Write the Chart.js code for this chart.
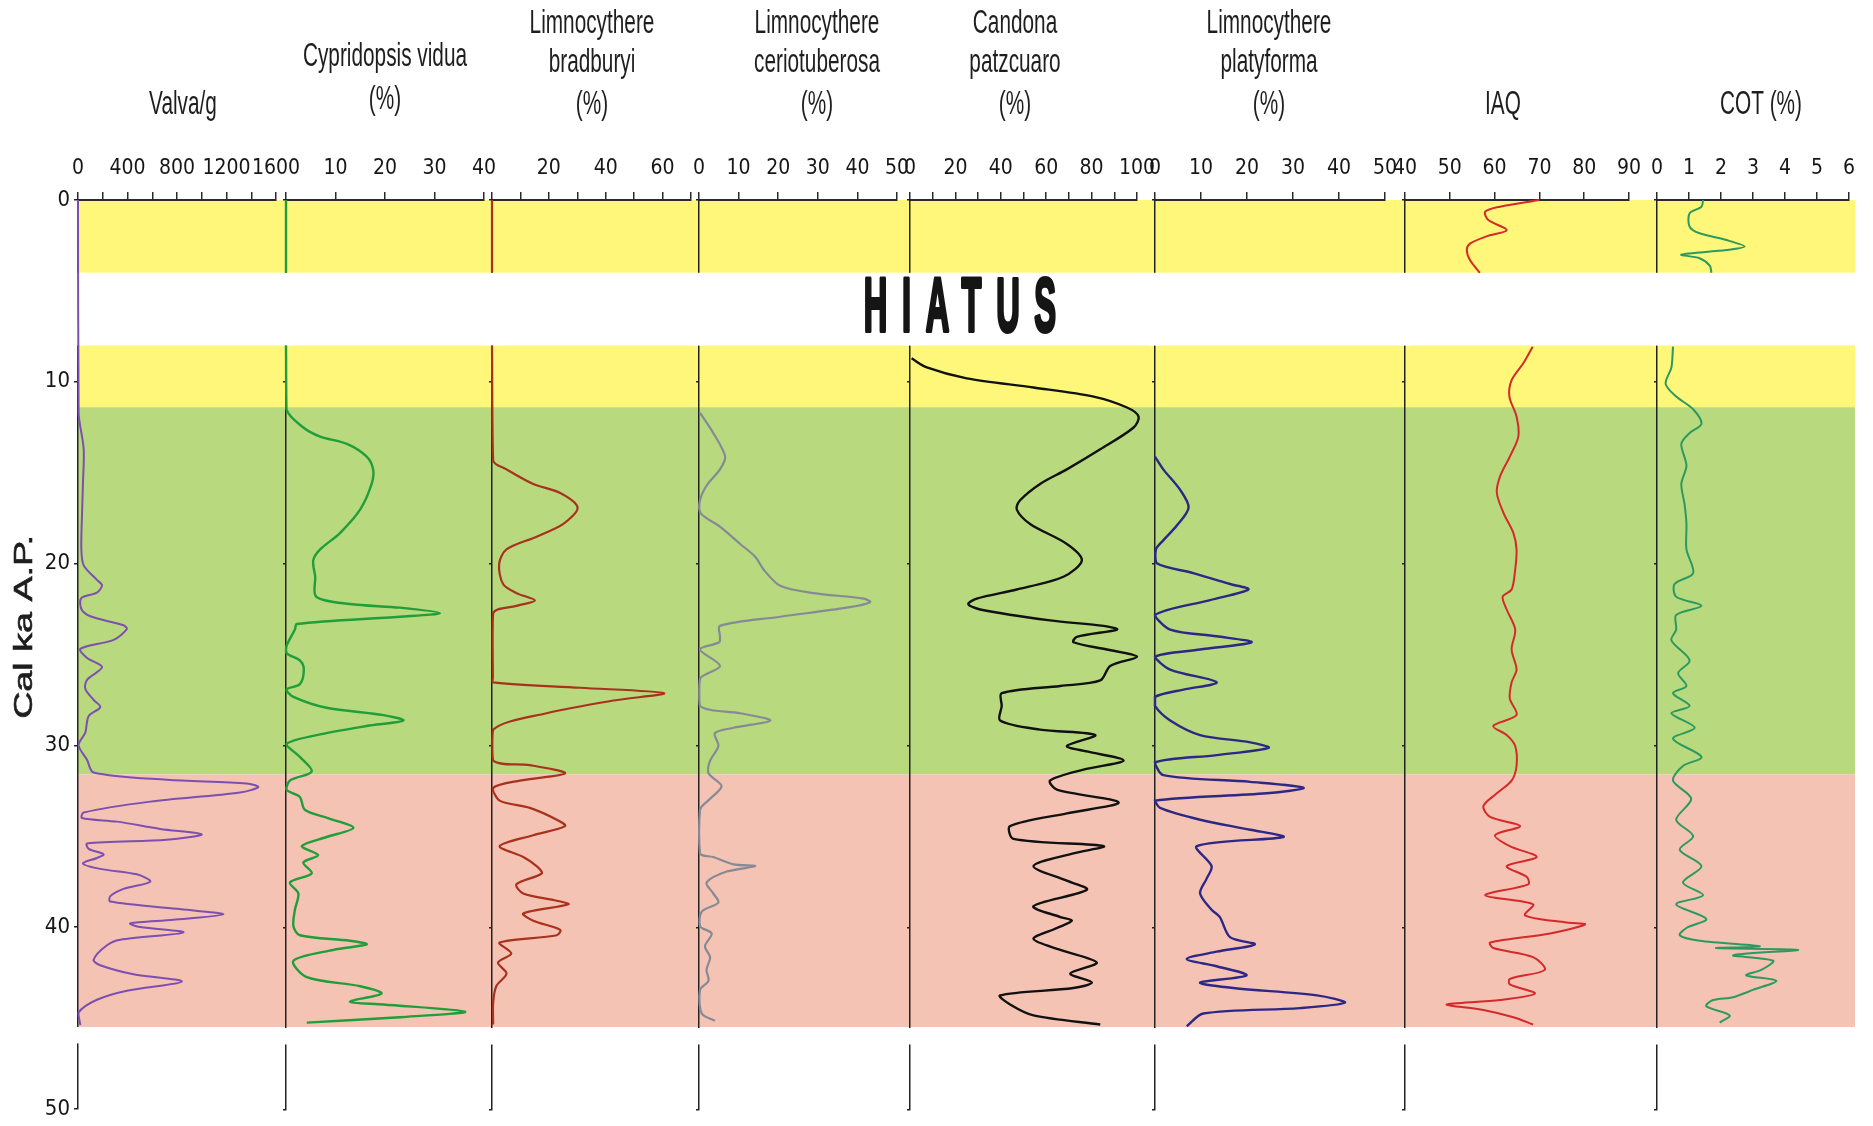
<!DOCTYPE html>
<html lang="es">
<head>
<meta charset="utf-8">
<title>Ostrácodos - Cal ka A.P.</title>
<script src="https://cdn.jsdelivr.net/npm/chart.js@4.4.1/dist/chart.umd.min.js"></script>
<style>
  html, body { margin: 0; padding: 0; background: #ffffff; }
  #lamina { position: relative; width: 1873px; height: 1126px; overflow: hidden; }
  #lamina canvas { position: absolute; left: 0; top: 0; }
</style>
</head>
<body>
<div id="lamina"></div>
<script>
// Datos: edad (ka cal A.P.) y valor de cada curva
const edadValva = [0, 11.7, 13.7, 15.6, 17.4, 19.2, 20.1, 20.9, 21.2, 21.6, 21.9, 22.5, 22.9, 23.4, 23.6, 24.2, 24.7, 25.2, 25.7, 26.4, 26.9, 27.5, 27.9, 28.4, 29.3, 30.0, 30.8, 31.5, 31.9, 32.1, 32.3, 32.6, 33.1, 33.7, 34.0, 34.2, 34.6, 34.9, 35.2, 35.4, 35.7, 36.0, 36.2, 36.5, 36.8, 37.1, 37.5, 37.9, 38.3, 38.6, 39.0, 39.3, 39.6, 39.8, 40.0, 40.3, 40.7, 41.0, 41.8, 42.1, 42.6, 43.0, 43.5, 44.0, 44.7, 45.4];
const valva = [0, 5, 46, 40, 32, 27, 46, 153, 194, 153, 27, 27, 100, 368, 395, 288, 19, 73, 194, 73, 59, 126, 180, 86, 59, 5, 73, 126, 718, 1363, 1457, 1310, 584, 46, 32, 315, 664, 1000, 718, 73, 86, 207, 153, 40, 180, 476, 584, 368, 261, 261, 799, 1175, 772, 422, 503, 852, 342, 234, 126, 180, 449, 839, 395, 153, 5, 19];

const edadCypri = [0, 4, 6, 8, 11.5, 12.5, 13.0, 13.4, 14.1, 14.8, 15.6, 17.0, 18.3, 19.2, 19.8, 20.7, 21.8, 22.2, 22.4, 22.7, 22.9, 23.3, 23.6, 24.5, 24.9, 25.3, 25.8, 26.6, 26.9, 27.3, 27.9, 28.3, 28.6, 28.9, 29.4, 29.9, 30.6, 31.4, 31.9, 32.4, 32.8, 33.5, 34.0, 34.5, 35.0, 35.5, 36.0, 36.4, 37.0, 37.5, 38.1, 39.0, 39.9, 40.4, 40.7, 40.9, 41.2, 41.8, 42.7, 43.2, 43.6, 44.05, 44.2, 44.6, 44.9, 45.2];
const cypri = [0, 0, null, 0, 0.1, 3.5, 6.9, 12.3, 16.3, 17.6, 17.3, 15.0, 10.9, 6.9, 5.5, 5.9, 6.1, 12.9, 23.0, 31.1, 23.0, 2.2, 1.8, 0.1, 0.1, 2.8, 3.6, 2.8, 0.1, 1.5, 8.2, 19.7, 23.7, 16.3, 6.2, 0.1, 2.8, 5.2, 0.8, 0.1, 2.8, 3.8, 8.9, 13.6, 8.2, 3.2, 6.5, 3.5, 5.2, 0.8, 2.5, 1.8, 1.5, 2.8, 12.9, 16.3, 9.6, 1.5, 4.2, 15.0, 19.3, 12.9, 19.7, 36.2, 23.0, 4.2];

const edadBrad = [0, 4, 6, 8, 14.3, 14.8, 15.6, 16.1, 16.9, 17.8, 18.5, 19.2, 20.0, 21.1, 21.6, 22.0, 22.3, 22.7, 26.2, 26.5, 26.8, 27.1, 27.5, 28.2, 29.1, 30.8, 31.05, 31.5, 31.9, 32.3, 33.0, 33.4, 34.05, 34.4, 34.9, 35.5, 36.1, 36.6, 37.0, 37.6, 38.1, 38.5, 38.7, 39.2, 39.6, 40.1, 40.4, 40.8, 41.4, 41.9, 42.5, 43.2, 44.1, 45.3];
const brad = [0, 0, null, 0, 0.4, 5.1, 14.5, 24, 30.1, 25.1, 15.7, 5.1, 2.5, 3.9, 8.6, 15.1, 8.6, 0.4, 0.3, 0.4, 31, 60.5, 42.8, 19.2, 0.4, 0.4, 13.3, 25.7, 9.8, 0.4, 2.7, 13.3, 22.8, 25.7, 14.5, 2.7, 11, 15.7, 17.5, 8.6, 11, 22.8, 26.9, 11, 14.5, 24, 22.8, 2.7, 6.8, 2.1, 5.1, 1.5, 0.4, 0.4];

const edadCerio = [11.7, 12.8, 14.1, 14.8, 15.7, 16.5, 17.2, 17.95, 18.9, 19.6, 20.3, 21.2, 21.6, 21.9, 22.1, 22.4, 22.9, 23.4, 24.0, 24.3, 24.7, 25.6, 26.3, 27.8, 28.2, 28.6, 29.0, 29.3, 30.0, 30.8, 31.5, 32.2, 32.9, 33.5, 35.9, 36.1, 36.5, 36.6, 36.9, 37.5, 38.1, 38.6, 39.1, 39.9, 40.3, 41.0, 41.6, 42.3, 42.9, 43.4, 44.7, 45.1];
const cerio = [0.25, 3.6, 6.6, 5.3, 1.9, 0.25, 0.4, 5.3, 10.4, 14.2, 16.3, 20.5, 28.9, 41.6, 43.2, 37.3, 20.5, 5.3, 5.3, 5.1, 0.25, 5.3, 0.25, 0.25, 10.4, 18.0, 8.7, 4.0, 4.9, 2.8, 2.4, 5.7, 2.8, 0.25, 0.25, 3.6, 8.7, 14.2, 7.0, 1.9, 3.6, 4.9, 0.7, 0.25, 3.2, 1.5, 2.8, 1.9, 2.4, 0.25, 0.7, 4.0];

const edadCand = [8.7, 9.2, 9.8, 10.3, 10.8, 11.4, 11.9, 12.5, 13.7, 14.8, 15.6, 16.5, 17.0, 17.8, 18.9, 19.8, 20.7, 21.4, 21.9, 22.2, 22.5, 23.1, 23.4, 23.6, 24.0, 24.3, 24.7, 25.1, 25.6, 26.4, 26.7, 27.1, 27.8, 28.6, 29.1, 29.4, 30.0, 30.3, 30.8, 31.3, 31.9, 32.4, 33.1, 33.7, 34.4, 35.1, 35.5, 35.9, 36.6, 37.4, 37.9, 38.8, 39.4, 39.6, 40.0, 40.6, 41.2, 41.9, 42.5, 43.0, 43.3, 43.7, 44.2, 44.8, 45.3];
const cand = [0.7, 7.4, 25, 54.4, 80.9, 95.6, 100.7, 98.5, 83.8, 69.1, 57.3, 48.5, 47, 52.9, 69.1, 75.7, 67.6, 47, 29.4, 25.7, 30.9, 61.7, 85.3, 91.2, 73.5, 72, 86.7, 100, 88.2, 83.8, 66.2, 40.4, 40.4, 39.7, 57.3, 81.6, 69.1, 77.9, 94.1, 76.4, 61.7, 64.7, 91.9, 69.1, 44.1, 45.6, 85.3, 72, 54.4, 69.1, 77.9, 54.4, 66.2, 71.3, 64.7, 54.4, 66.2, 82.3, 70.6, 80.1, 72, 39.7, 44.1, 54.4, 83.8];

const edadPlaty = [14.1, 14.8, 15.9, 16.9, 17.9, 18.7, 19.2, 19.96, 20.5, 21.1, 21.4, 21.98, 22.8, 23.6, 23.97, 24.3, 24.7, 25.1, 25.8, 26.5, 26.9, 27.3, 27.8, 28.6, 29.4, 29.8, 30.1, 30.5, 30.9, 31.6, 31.97, 32.3, 32.6, 33.0, 33.4, 34.05, 34.6, 35.0, 35.5, 36.6, 37.3, 38.1, 39.0, 39.4, 40.5, 40.9, 41.3, 41.7, 42.1, 42.6, 43.0, 43.3, 43.7, 44.1, 44.4, 44.7, 45.4];
const platy = [0, 1.8, 5.4, 7.3, 4.7, 1.8, 0.2, 0.4, 8.3, 16.3, 20.3, 12, 0, 3.3, 13.4, 21, 9.8, 0, 3.3, 13.4, 6.2, 0, 0, 3.3, 9.8, 20.7, 24.7, 13.4, 0, 1.8, 20.7, 32.3, 24.3, 0, 1.1, 9.8, 20.7, 27.9, 9.1, 12.3, 11.2, 9.8, 12.3, 14.1, 16.3, 21.7, 13.4, 6.9, 13.4, 19.9, 9.8, 17, 35.2, 41.3, 31.5, 10.5, 6.9];

const edadIaq = [0, 0.37, 0.64, 1.1, 1.65, 2.0, 2.4, 2.75, 3.3, 4.0, 6, 8.06, 8.97, 9.9, 10.8, 11.9, 13.0, 14.1, 15.2, 16.1, 17.2, 18.3, 19.2, 20.3, 21.4, 21.8, 22.5, 23.6, 24.7, 25.8, 26.5, 27.4, 28.3, 28.9, 29.4, 30.0, 31.1, 31.9, 32.6, 33.3, 33.9, 34.4, 34.9, 35.5, 36.1, 36.6, 37.2, 37.6, 38.2, 38.7, 39.3, 39.7, 39.8, 40.3, 40.8, 41.1, 41.6, 42.3, 42.8, 43.1, 43.6, 43.96, 44.2, 44.5, 44.9, 45.3];
const iaq = [70, 61.2, 57.9, 58.6, 62.7, 58.2, 54.5, 53.8, 54.5, 56.7, null, 68.5, 66.4, 63.8, 63.3, 64.9, 65.3, 63.4, 61.2, 60.5, 62, 64.2, 64.9, 64.6, 63.8, 61.8, 62.7, 64.6, 63.8, 64.9, 63.8, 63.4, 64.9, 59.7, 62.7, 64.6, 64.9, 63.8, 60.5, 57.5, 59, 65.7, 60.1, 63.4, 69.4, 62.7, 67.2, 67.5, 57.9, 68.6, 66.8, 76.1, 80.2, 72.4, 59, 59.7, 68.6, 71.2, 63.4, 63.4, 69, 61.2, 49.3, 57.5, 64.2, 68.6];

const edadCot = [0, 0.37, 0.73, 1.47, 1.83, 2.2, 2.56, 2.75, 3.0, 3.2, 3.6, 4.0, 6, 8.06, 9.2, 10.1, 10.8, 11.5, 12.3, 12.8, 13.4, 14.6, 15.6, 16.7, 17.8, 19.2, 20.5, 21.1, 21.8, 22.3, 22.8, 23.6, 24.2, 25.3, 26.0, 26.7, 27.1, 27.8, 28.2, 29.0, 29.6, 30.6, 31.1, 31.9, 32.9, 34.05, 34.95, 35.7, 36.6, 37.5, 38.2, 38.7, 39.5, 40.0, 40.4, 40.7, 41.0, 41.1, 41.2, 41.5, 41.8, 42.3, 42.6, 42.9, 43.4, 43.8, 43.96, 44.3, 44.8, 45.2];
const cot = [1.44, 1.39, 1.02, 1.02, 1.33, 2.17, 2.74, 2.17, 0.76, 1.33, 1.65, 1.7, null, 0.5, 0.45, 0.27, 0.6, 1.13, 1.39, 1.02, 0.76, 0.92, 0.76, 0.86, 0.92, 0.92, 1.13, 0.55, 0.6, 1.39, 0.6, 0.6, 0.45, 1.02, 0.66, 0.92, 0.5, 1.02, 0.45, 1.18, 0.5, 1.39, 0.81, 0.5, 1.07, 0.6, 1.13, 0.71, 1.39, 0.81, 1.44, 0.6, 1.54, 0.92, 0.71, 1.33, 3.21, 1.85, 4.41, 2.38, 3.63, 3.26, 2.79, 3.73, 3.0, 2.38, 1.75, 1.54, 2.27, 1.96];

// Etiquetas de los ejes
const ticksEdad = [0, 10, 20, 30, 40, 50];
const ticksValva = [0, 400, 800, 1200, 1600];
const ticksCypri = [10, 20, 30, 40];
const ticksBrad = [20, 40, 60];
const ticksCerio = [0, 10, 20, 30, 40, 50];
const ticksCand = [0, 20, 40, 60, 80, 100];
const ticksPlaty = [0, 10, 20, 30, 40, 50];
const ticksIaq = [40, 50, 60, 70, 80, 90];
const ticksCot = [0, 1, 2, 3, 4, 5, 6];

// Franjas de fondo (zonas) y cortes
const franjaDesde = [0, 8, 11.4, 31.6];
const franjaHasta = [4, 11.4, 31.6, 45.5];
const franjaColor = ['#fff77a', '#fff77a', '#b8d97e', '#f4c3b3'];
const hiato = [4, 8];
const corteBase = [45.5, 46.4];

// Geometría de la lámina
const ANCHO = 1873, ALTO = 1126;
const Y_TOP = 200, Y_BOT = 1110, X_FIN = 1855;
const FUENTE_TICKS = '"Liberation Sans Narrow", "Arial Narrow", "DejaVu Sans Condensed", "Liberation Sans", sans-serif';
const FUENTE_TITULO = '"Liberation Sans", Arial, sans-serif';

const paneles = [
    { titulo: ['Valva/g'], tx: 183, ty: [105], izq: 78, der: 276, min: 0, max: 1600, paso: 200, ticks: ticksValva, color: '#7d4fb0', ancho: 2, edades: edadValva, valores: valva },
    { titulo: ['Cypridopsis vidua', '(%)'], tx: 385, ty: [57, 100], izq: 286, der: 484, min: 0, max: 40, paso: 10, ticks: ticksCypri, color: '#1f9e3a', ancho: 2.4, edades: edadCypri, valores: cypri },
    { titulo: ['Limnocythere', 'bradburyi', '(%)'], tx: 592, ty: [24, 63, 105], izq: 492, der: 691, min: 0, max: 70, paso: 10, ticks: ticksBrad, color: '#a8321e', ancho: 2.2, edades: edadBrad, valores: brad },
    { titulo: ['Limnocythere', 'ceriotuberosa', '(%)'], tx: 817, ty: [24, 63, 105], izq: 699, der: 897, min: 0, max: 50, paso: 10, ticks: ticksCerio, color: '#858a96', ancho: 2.2, edades: edadCerio, valores: cerio },
    { titulo: ['Candona', 'patzcuaro', '(%)'], tx: 1015, ty: [24, 63, 105], izq: 910, der: 1137, min: 0, max: 100, paso: 10, ticks: ticksCand, color: '#111111', ancho: 2.4, edades: edadCand, valores: cand },
    { titulo: ['Limnocythere', 'platyforma', '(%)'], tx: 1269, ty: [24, 63, 105], izq: 1155, der: 1385, min: 0, max: 50, paso: 10, ticks: ticksPlaty, color: '#2d2785', ancho: 2.4, edades: edadPlaty, valores: platy },
    { titulo: ['IAQ'], tx: 1503, ty: [105], izq: 1405, der: 1629, min: 40, max: 90, paso: 10, ticks: ticksIaq, color: '#d42a2a', ancho: 2, edades: edadIaq, valores: iaq },
    { titulo: ['COT (%)'], tx: 1761, ty: [105], izq: 1657, der: 1849, min: 0, max: 6, paso: 1, ticks: ticksCot, color: '#2a9a60', ancho: 2, edades: edadCot, valores: cot }
];

// Fondo de colores (solo en el primer panel, que queda debajo de todos)
const plugFondo = {
    id: 'fondo',
    beforeDraw(chart) {
        const { ctx, chartArea, scales: { y } } = chart;
        ctx.save();
        franjaDesde.forEach((d, k) => {
            const y0 = y.getPixelForValue(d), y1 = y.getPixelForValue(franjaHasta[k]);
            ctx.fillStyle = franjaColor[k];
            ctx.fillRect(chartArea.left, y0, X_FIN - chartArea.left, y1 - y0);
        });
        ctx.restore();
    }
};

// Tapa el eje vertical en el hiato y en el corte inferior
const plugMascara = {
    id: 'mascara',
    beforeDatasetsDraw(chart) {
        const { ctx, chartArea, scales: { y } } = chart;
        ctx.save();
        ctx.fillStyle = '#ffffff';
        [hiato, corteBase].forEach(([a, b]) => {
            const y0 = y.getPixelForValue(a), y1 = y.getPixelForValue(b);
            ctx.fillRect(chartArea.left - 5, y0, 10, y1 - y0);
        });
        ctx.restore();
    }
};

// Título del eje de edades
const plugTituloY = {
    id: 'tituloY',
    afterDraw(chart) {
        const ctx = chart.ctx;
        ctx.save();
        ctx.translate(25, 627);
        ctx.rotate(-Math.PI / 2);
        ctx.scale(1.45, 1);
        ctx.font = '26px ' + FUENTE_TITULO;
        ctx.fillStyle = '#1e1e1e';
        ctx.strokeStyle = '#1e1e1e';
        ctx.lineWidth = 0.6;
        ctx.textAlign = 'center';
        ctx.textBaseline = 'middle';
        ctx.fillText('Cal ka A.P.', 0, 0);
        ctx.strokeText('Cal ka A.P.', 0, 0);
        ctx.restore();
    }
};

// Texto HIATUS (en el último panel, encima de todo)
const plugHiato = {
    id: 'hiato',
    afterDraw(chart) {
        const ctx = chart.ctx;
        const yc = chart.scales.y.getPixelForValue((hiato[0] + hiato[1]) / 2);
        ctx.save();
        ctx.translate(960, yc + 1);
        ctx.scale(0.43, 1);
        ctx.font = 'bold 76px ' + FUENTE_TITULO;
        ctx.fillStyle = '#151515';
        ctx.strokeStyle = '#151515';
        ctx.lineWidth = 4;
        ctx.lineJoin = 'round';
        ctx.textAlign = 'center';
        ctx.textBaseline = 'middle';
        let dx = 0;
        if ('letterSpacing' in ctx) { ctx.letterSpacing = '34px'; dx = 17; }
        ctx.strokeText('HIATUS', dx, 0);
        ctx.fillText('HIATUS', dx, 0);
        ctx.restore();
    }
};

function plugCabecera(p) {
    return {
        id: 'cabecera',
        afterDraw(chart) {
            const ctx = chart.ctx;
            ctx.save();
            ctx.font = '33px ' + FUENTE_TITULO;
            ctx.fillStyle = '#1e1e1e';
            ctx.textAlign = 'center';
            ctx.textBaseline = 'middle';
            p.titulo.forEach((t, k) => {
                ctx.save();
                ctx.translate(p.tx, p.ty[k]);
                ctx.scale(0.63, 1);
                ctx.fillText(t, 0, 0);
                ctx.restore();
            });
            ctx.restore();
        }
    };
}

const lamina = document.getElementById('lamina');

paneles.forEach((p, i) => {
    const canvas = document.createElement('canvas');
    canvas.width = ANCHO;
    canvas.height = ALTO;
    lamina.appendChild(canvas);

    const primero = i === 0, ultimo = i === paneles.length - 1;
    const anchoEje = primero ? p.izq : 0;
    const extras = [plugCabecera(p), plugMascara];
    if (primero) extras.push(plugFondo, plugTituloY);
    if (ultimo) extras.push(plugHiato);

    new Chart(canvas.getContext('2d'), {
        type: 'line',
        data: {
            datasets: [{
                data: p.edades.map((e, k) => ({ x: p.valores[k], y: e })),
                borderColor: p.color,
                borderWidth: p.ancho,
                pointRadius: 0,
                tension: 0.3,
                fill: false,
                spanGaps: false,
                clip: false
            }]
        },
        options: {
            indexAxis: 'y',
            responsive: false,
            animation: false,
            events: [],
            layout: {
                padding: { left: p.izq - anchoEje, right: ANCHO - p.der, top: 0, bottom: ALTO - Y_BOT }
            },
            plugins: {
                legend: { display: false },
                tooltip: { enabled: false }
            },
            scales: {
                x: {
                    type: 'linear',
                    position: 'top',
                    min: p.min,
                    max: p.max,
                    afterFit: s => { s.height = Y_TOP; },
                    border: { display: true, color: '#2a2a2a', width: 2 },
                    grid: { drawOnChartArea: false, drawTicks: true, tickLength: 8, color: '#2a2a2a', lineWidth: 1.5 },
                    ticks: {
                        stepSize: p.paso,
                        autoSkip: false,
                        maxRotation: 0,
                        minRotation: 0,
                        padding: 11,
                        color: '#161616',
                        font: { family: FUENTE_TICKS, size: 21 },
                        callback: v => p.ticks.includes(v) ? String(v) : ''
                    }
                },
                y: {
                    type: 'linear',
                    position: 'left',
                    reverse: true,
                    min: 0,
                    max: 50,
                    afterFit: s => { s.width = anchoEje; },
                    border: { display: true, color: '#222222', width: 1.5 },
                    grid: { drawOnChartArea: false, drawTicks: true, tickLength: primero ? 4 : 3, color: '#222222', lineWidth: 1.5 },
                    ticks: {
                        display: primero,
                        stepSize: 10,
                        padding: 4,
                        color: '#161616',
                        font: { family: FUENTE_TICKS, size: 22 },
                        callback: v => ticksEdad.includes(v) ? String(v) : ''
                    }
                }
            }
        },
        plugins: extras
    });
});
</script>
</body>
</html>
